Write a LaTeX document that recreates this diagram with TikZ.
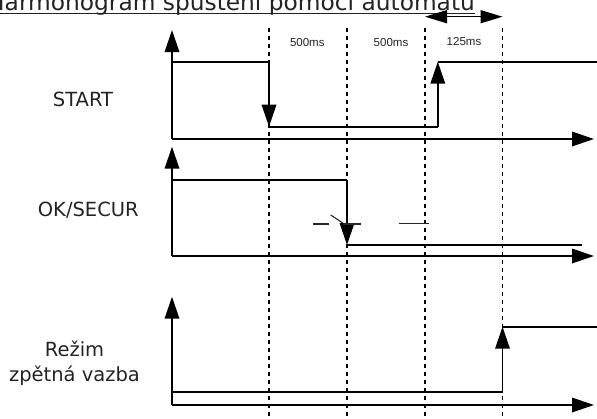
\documentclass[tikz,border=0pt]{standalone}
\usepackage{fontspec}
\setmainfont{DejaVu Sans}
\newfontfamily\msfont{Liberation Sans}
\usetikzlibrary{arrows.meta}
\definecolor{tdtext}{RGB}{35,35,35}
\tikzset{
  taxis/.style ={line width=1.8pt, line cap=butt},
  tsig/.style  ={line width=1.8pt, line join=miter},
  tgrid/.style ={line width=1.9pt, dash pattern=on 3.5pt off 4.5pt},
  tthin/.style ={line width=1.1pt, black!85},
  tname/.style ={font=\fontsize{19.5}{25}\selectfont, text=tdtext, align=center, inner sep=0pt},
  tms/.style   ={font=\msfont\fontsize{11.5}{13}\selectfont, text=tdtext, inner sep=0pt},
  tspan/.style ={line width=1.5pt, {Triangle[length=22pt,width=13pt]}-{Triangle[length=22pt,width=13pt]}},
}

\begin{document}
\begin{tikzpicture}[x=1pt, y=-1pt, >={Triangle[length=22pt,width=14.5pt]}]
    \useasboundingbox (0,0) rectangle (597,418);
    % title, cut at the top edge
    \node[anchor=base west, inner sep=0pt, text=tdtext, font=\fontsize{23.3}{27}\selectfont] (title) at (-13,10) {Harmonogram spuštění pomocí automatu};
    \draw[line width=1.4pt, tdtext] ([yshift=-3.4pt]title.base west) -- ([yshift=-3.4pt]title.base east);
    % time marks
    \draw[tgrid] (269,28) -- (269,418);
    \draw[tgrid] (347,28) -- (347,418);
    \draw[tgrid] (425,28) -- (425,418);
    \draw[tgrid] (502.5,28) -- (502.5,418);
    \draw[tspan] (425,16.7) -- (502.5,16.7);
    \node[tms] (ms1) at (307.3,42.7) {500ms};
    \node[tms] (ms2) at (391,42.7)   {500ms};
    \node[tms] (ms3) at (464,41.7)   {125ms};
    % START
    \node[tname, anchor=base] (lblstart) at (83,106) {START};
    \draw[taxis, ->] (172,139) -- (172,30);
    \draw[taxis, ->] (172,139) -- (594,139);
    \draw[tsig] (172,61.7) -- (269,61.7);
    \draw[tsig, ->] (269,61.7) -- (269,126.7);
    \draw[tsig] (269,126.7) -- (437.8,126.7);
    \draw[tsig, ->] (437.8,126.7) -- (437.8,61.7);
    \draw[tsig] (437.8,61.7) -- (597,61.7);
    % OK/SECUR
    \node[tname, anchor=base] (lblok) at (88.3,216.7) {OK/SECUR};
    \draw[taxis, ->] (172,256) -- (172,146.7);
    \draw[taxis, ->] (172,256) -- (594,256);
    \draw[tsig] (172,180) -- (347,180);
    \draw[tsig, ->] (347,180) -- (347,245);
    \draw[tsig] (347,245) -- (581.7,245);
    \draw[tthin] (312.7,224) -- (329.3,224);
    \draw[tthin] (330.7,215) -- (343.3,223.3);
    \draw[tthin] (343.3,224) -- (361,224);
    \draw[tthin] (399,223.3) -- (429.3,223.3);
    % Rezim
    \node[tname, anchor=base] (lblmode) at (74.5,381.7) {Režim\\zpětná vazba};
    \draw[taxis, ->] (172,405) -- (172,296.7);
    \draw[taxis, ->] (172,405) -- (594,405);
    \draw[tsig] (172,392.3) -- (502.5,392.3);
    \draw[tsig, ->] (502.5,392.3) -- (502.5,326.7);
    \draw[tsig] (502.5,326.7) -- (597,326.7);
\end{tikzpicture}
\end{document}
